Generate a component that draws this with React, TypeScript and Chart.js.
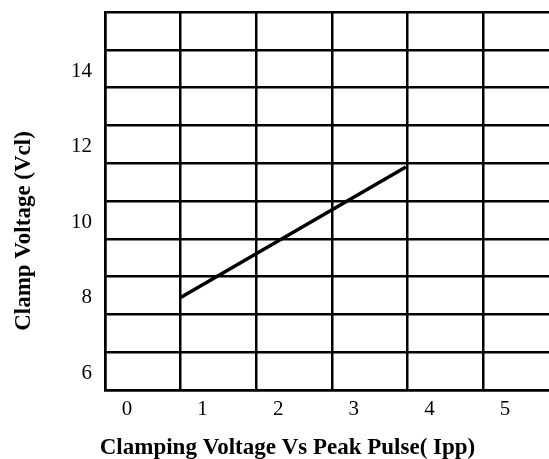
import React, { useEffect, useRef } from "react";
import { Chart, registerables } from "chart.js";

Chart.register(...registerables);

// Data
const peakPulse: number[] = [0.71, 3.69];
const clampVoltage: number[] = [7.95, 11.4];

// Axis tick labels (labels sit in the middle of grid cells)
const xTickLabels: string[] = ["0", "1", "2", "3", "4", "5"];
const yTickLabels: number[] = [6, 8, 10, 12, 14];

// Grid line values
const xGridLines: number[] = [-0.29, 0.71, 1.71, 2.71, 3.71, 4.71];
const yGridLines: number[] = [5.5, 6.5, 7.5, 8.5, 9.5, 10.5, 11.5, 12.5, 13.5, 14.5, 15.5];

const xTitle = "Clamping Voltage Vs Peak Pulse( Ipp)";
const yTitle = "Clamp Voltage (Vcl)";

const SERIF = "'Liberation Serif', 'Times New Roman', serif";

const titlePlugin = {
  id: "customTitles",
  afterDraw(chart: any) {
    const ctx = chart.ctx as CanvasRenderingContext2D;
    ctx.save();
    ctx.fillStyle = "#000";
    ctx.font = `bold 23px ${SERIF}`;
    ctx.textAlign = "center";
    ctx.textBaseline = "alphabetic";
    ctx.fillText(xTitle, 287.5, 454);
    ctx.translate(30, 231);
    ctx.rotate(-Math.PI / 2);
    ctx.fillText(yTitle, 0, 0);
    ctx.restore();
  },
};

export default function App() {
  const ref = useRef<HTMLCanvasElement | null>(null);
  useEffect(() => {
    if (!ref.current) return;
    const chart = new Chart(ref.current, {
      type: "line",
      data: {
        datasets: [
          {
            data: peakPulse.map((x, i) => ({ x, y: clampVoltage[i] })),
            borderColor: "#000",
            borderWidth: 3.5,
            pointRadius: 0,
            fill: false,
            tension: 0,
          },
        ],
      },
      options: {
        animation: false,
        responsive: false,
        maintainAspectRatio: false,
        layout: { padding: { top: 12, right: 0, left: 0, bottom: 0 } },
        plugins: { legend: { display: false }, tooltip: { enabled: false }, title: { display: false } },
        scales: {
          x: {
            type: "linear",
            min: -0.29,
            max: 5.583,
            afterBuildTicks: (scale: any) => {
              scale.ticks = xGridLines.map((v) => ({ value: v }));
            },
            afterFit: (scale: any) => {
              scale.height = 69;
              scale.paddingLeft = 0;
              scale.paddingRight = 0;
            },
            ticks: {
              autoSkip: false,
              maxRotation: 0,
              padding: 7,
              labelOffset: 22,
              color: "#000",
              font: { family: SERIF, size: 21 },
              callback: (_v: any, i: number) => xTickLabels[i] ?? "",
            },
            grid: { color: "#000", lineWidth: 2.5, drawTicks: false },
            border: { color: "#000", width: 2.5 },
          },
          y: {
            type: "linear",
            min: 5.5,
            max: 15.5,
            afterBuildTicks: (scale: any) => {
              scale.ticks = yGridLines.map((v) => ({ value: v }));
            },
            afterFit: (scale: any) => {
              scale.width = 105;
              scale.paddingTop = 0;
              scale.paddingBottom = 0;
            },
            ticks: {
              autoSkip: false,
              padding: 13,
              labelOffset: -16.5,
              color: "#000",
              font: { family: SERIF, size: 21 },
              callback: (v: any) => {
                const lab = Math.round(Number(v) + 0.5);
                return yTickLabels.includes(lab) ? String(lab) : "";
              },
            },
            grid: { color: "#000", lineWidth: 2.5, drawTicks: false },
            border: { color: "#000", width: 2.5 },
          },
        },
      },
      plugins: [titlePlugin],
    });
    return () => chart.destroy();
  }, []);
  return (
    <div style={{ position: "absolute", left: 0, top: 0, width: 549, height: 459, overflow: "hidden", background: "#fff" }}>
      <canvas ref={ref} width={549} height={459} style={{ display: "block" }} />
    </div>
  );
}
